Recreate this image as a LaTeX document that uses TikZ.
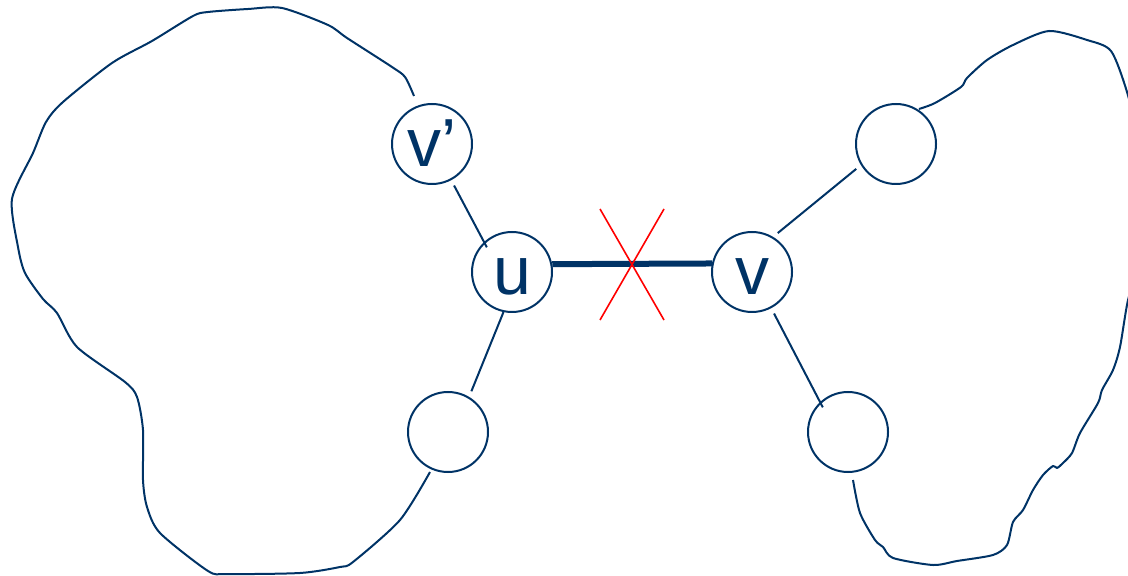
\documentclass[tikz,border=0pt]{standalone}
\usepackage{fontspec}
\setmainfont{Liberation Sans}
\definecolor{navy}{RGB}{0,51,102}
\begin{document}
\begin{tikzpicture}[x=0.5pt,y=-0.5pt,
  vert/.style={circle,draw=navy,line width=1pt,minimum size=40pt,inner sep=0pt,
    text=navy,font=\fontsize{34}{34}\selectfont,text height=23pt,text depth=0pt},
  conn/.style={draw=navy,line width=1pt},
  cut/.style={draw=navy,line width=3pt},
  blob/.style={draw=navy,line width=1pt,line join=round},
  cross/.style={draw=red,line width=0.8pt}]
\useasboundingbox (0,0) rectangle (1128,576);
\node[vert] (vp) at (432,144) {v’};
\node[vert] (u) at (512,272) {u};
\node[vert] (v) at (752,272) {v};
\node[vert] (tr) at (896,144) {};
\node[vert] (bl) at (448,432) {};
\node[vert] (br) at (848,432) {};
\draw[conn,shorten <=3pt,shorten >=-3pt] (vp.-62) -- (u.133);
\draw[conn,shorten >=3pt] (u.-102) -- (bl.59);
\draw[cut] (u.11.5) -- (v.168.5);
\draw[conn,shorten <=3pt,shorten >=3pt] (v.59) -- (tr.-149);
\draw[conn,shorten <=3pt,shorten >=-3pt] (v.-62) -- (br.133);
\coordinate (x1) at (600,209);
\coordinate (x2) at (664,320);
\coordinate (x3) at (664,209);
\coordinate (x4) at (600,320);
\draw[cross] (x1) -- (x2);
\draw[cross] (x3) -- (x4);
\draw[blob] plot[smooth,tension=0.45] coordinates {
 (414,96) (405,77) (392,67) (347,38) (328,25) (282,8) (248,9) (208,12) (193,16)
 (152,41) (112,63) (63,102) (46,122) (33,153) (12,199) (18,247) (25,273) (43,299)
 (57,313) (77,347) (125,382) (137,397) (143,430) (143,480) (147,507) (160,533)
 (208,571) (227,574) (300,573) (340,567) (353,562) (400,520) (430,472)};
\draw[blob] plot[smooth,tension=0.45] coordinates {
 (919,109) (935,103) (961,87) (967,78) (987,60) (1013,45) (1049,31) (1087,40)
 (1111,51) (1127,92) (1138,140) (1144,200) (1140,260) (1128,300) (1120,347) (1113,370) (1102,390) (1098,403)
 (1080,433) (1072,453) (1063,463) (1057,468) (1053,466) (1043,475) (1033,490)
 (1023,510) (1013,522) (1007,545) (993,555) (957,561) (933,565) (893,558) (883,547)
 (875,540) (860,513) (853,480)};
\end{tikzpicture}
\end{document}
